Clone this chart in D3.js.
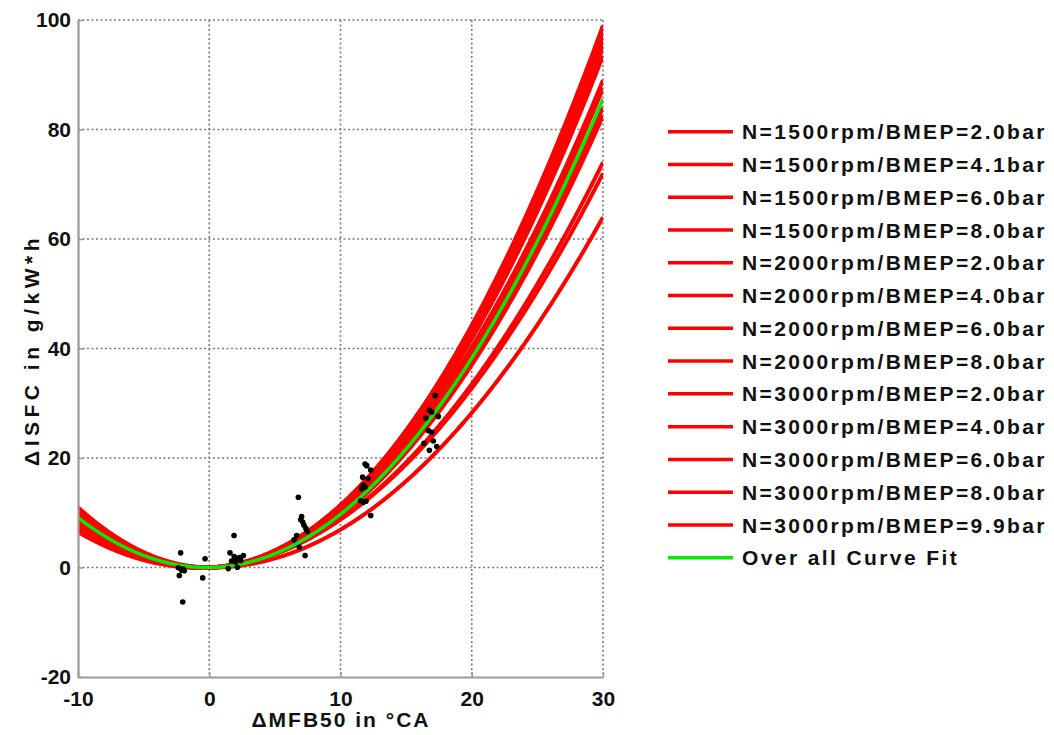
<!DOCTYPE html>
<html>
<head>
<meta charset="utf-8">
<script src="https://cdn.jsdelivr.net/npm/d3@7"></script>
<style>
  html, body { margin: 0; padding: 0; background: #fff; }
  svg { display: block; }
  text { font-family: "Liberation Sans", Arial, sans-serif; font-weight: bold; fill: #111; }
</style>
</head>
<body>
<svg id="chart" width="1054" height="735"></svg>
<script>
// ---- Data ----
const seriesNames = [
  "N=1500rpm/BMEP=2.0bar", "N=1500rpm/BMEP=4.1bar", "N=1500rpm/BMEP=6.0bar",
  "N=1500rpm/BMEP=8.0bar", "N=2000rpm/BMEP=2.0bar", "N=2000rpm/BMEP=4.0bar",
  "N=2000rpm/BMEP=6.0bar", "N=2000rpm/BMEP=8.0bar", "N=3000rpm/BMEP=2.0bar",
  "N=3000rpm/BMEP=4.0bar", "N=3000rpm/BMEP=6.0bar", "N=3000rpm/BMEP=8.0bar",
  "N=3000rpm/BMEP=9.9bar"
];
// quadratic fit coefficients: dISFC = a*x^2 + b*x
const coefA = [0.10875, 0.10667, 0.10458, 0.1075, 0.10167, 0.10292, 0.09542,
               0.09667, 0.0900, 0.0900, 0.07917, 0.07625, 0.07208];
const coefB = [0.0375, 0.0667, 0.0958, -0.025, 0.1167, 0.0292, 0.1042,
               0.0167, 0.1000, 0.0500, 0.0917, 0.1125, -0.0292];
const overallName = "Over all Curve Fit";
const overallA = 0.09408;
const overallB = 0.0308;

// measured points (dMFB50, dISFC)
const pointsX = [-2.18, -2.36, -2.1, -2.0, -1.9, -2.28, -2.02, -0.32, -0.5,
  1.89, 1.58, 1.45, 1.7, 1.9, 2.1, 2.3, 2.6, 2.0, 2.14, 2.4,
  6.79, 7.04, 6.97, 7.12, 7.22, 7.37, 7.47, 6.66, 6.46, 6.86, 7.3,
  11.87, 12.0, 12.3, 11.69, 12.12, 11.74, 11.87, 11.61, 11.54, 11.74, 11.94, 12.3,
  17.2, 16.77, 16.95, 16.5, 17.45, 16.7, 16.95, 17.07, 16.36, 17.33, 16.77];
const pointsY = [2.68, -0.06, -0.5, -0.3, -0.6, -1.46, -6.3, 1.6, -1.9,
  5.85, 2.68, -0.2, 1.2, 2.0, 1.5, 1.8, 2.2, 1.0, 0.05, 1.3,
  12.84, 9.3, 8.7, 8.3, 7.7, 7.1, 6.6, 5.84, 5.05, 3.7, 2.2,
  18.9, 18.6, 17.8, 16.5, 16.2, 15.0, 14.7, 14.4, 12.2, 11.9, 12.1, 9.5,
  31.4, 28.7, 28.4, 27.3, 27.6, 25.0, 24.7, 23.1, 22.7, 22.1, 21.4];

const xTicks = [-10, 0, 10, 20, 30];
const yTicks = [-20, 0, 20, 40, 60, 80, 100];
const xTitle = "\u0394MFB50 in \u00B0CA";
const yTitle = "\u0394ISFC in g/kW*h";

// ---- Layout ----
const svg = d3.select("#chart");
const pL = 78, pR = 603, pT = 20, pB = 677;
const x = d3.scaleLinear().domain([-10, 30]).range([pL, pR]);
const y = d3.scaleLinear().domain([-20, 100]).range([pB, pT]);

const red = "#ff0000", green = "#00ee00", gridColor = "#7a7a7a";

// grid (dotted)
const grid = svg.append("g");
grid.selectAll("line.gx").data(xTicks.slice(1)).join("line")
  .attr("x1", d => x(d)).attr("x2", d => x(d)).attr("y1", pT).attr("y2", pB)
  .attr("stroke", gridColor).attr("stroke-width", 1.6).attr("stroke-dasharray", "2,2.5");
grid.selectAll("line.gy").data(yTicks.slice(1)).join("line")
  .attr("y1", d => y(d)).attr("y2", d => y(d)).attr("x1", pL).attr("x2", pR)
  .attr("stroke", gridColor).attr("stroke-width", 1.6).attr("stroke-dasharray", "2,2.5");

// clip
svg.append("clipPath").attr("id", "clip").append("rect")
  .attr("x", pL).attr("y", pT).attr("width", pR - pL).attr("height", pB - pT);

const xs = d3.range(0, 401).map(i => -10 + i * 0.1);
const lineGen = d3.line().x(d => x(d[0])).y(d => y(d[1]));
const curves = svg.append("g").attr("clip-path", "url(#clip)");
coefA.forEach((a, i) => {
  const b = coefB[i];
  curves.append("path")
    .datum(xs.map(v => [v, a * v * v + b * v]))
    .attr("d", lineGen).attr("fill", "none")
    .attr("stroke", red).attr("stroke-width", 4);
});
curves.append("path")
  .datum(xs.map(v => [v, overallA * v * v + overallB * v]))
  .attr("d", lineGen).attr("fill", "none")
  .attr("stroke", green).attr("stroke-width", 3.4);

// points
svg.append("g").selectAll("circle").data(pointsX.map((v, i) => [v, pointsY[i]])).join("circle")
  .attr("cx", d => x(d[0])).attr("cy", d => y(d[1])).attr("r", 2.8).attr("fill", "#000");

// axes
const axisColor = "#999";
const fmt = d => String(d);
const xAxis = svg.append("g").attr("transform", `translate(0,${pB})`)
  .call(d3.axisBottom(x).tickValues(xTicks).tickFormat(fmt).tickSizeInner(-5).tickSizeOuter(0).tickPadding(10));
const yAxis = svg.append("g").attr("transform", `translate(${pL},0)`)
  .call(d3.axisLeft(y).tickValues(yTicks).tickFormat(fmt).tickSizeInner(-5).tickSizeOuter(0).tickPadding(7));
[xAxis, yAxis].forEach(g => {
  g.select(".domain").attr("stroke", axisColor).attr("stroke-width", 2.2);
  g.selectAll(".tick line").attr("stroke", axisColor).attr("stroke-width", 1.5);
  g.selectAll(".tick text").attr("font-size", 21).attr("font-family", "Liberation Sans, Arial, sans-serif")
    .attr("font-weight", "bold").attr("fill", "#111");
});
xAxis.selectAll(".tick text").attr("dy", "0.9em");

// axis titles
svg.append("text").attr("x", 341).attr("y", 727).attr("text-anchor", "middle")
  .attr("font-size", 21).style("letter-spacing", "2px").text(xTitle);
svg.append("text").attr("transform", "translate(39,350) rotate(-90)").attr("text-anchor", "middle")
  .attr("font-size", 21).style("letter-spacing", "4.5px").text(yTitle);

// legend
const legend = svg.append("g");
const legItems = seriesNames.map(n => ({ name: n, color: red })).concat([{ name: overallName, color: green }]);
const legY0 = 131.7, legDy = 32.77;
legItems.forEach((d, i) => {
  const yy = legY0 + i * legDy;
  legend.append("line").attr("x1", 668).attr("x2", 733).attr("y1", yy).attr("y2", yy)
    .attr("stroke", d.color).attr("stroke-width", 3.5);
  legend.append("text").attr("x", 742).attr("y", yy).attr("dy", "0.36em")
    .attr("font-size", 21).style("letter-spacing", "2.4px").text(d.name);
});
</script>
</body>
</html>
